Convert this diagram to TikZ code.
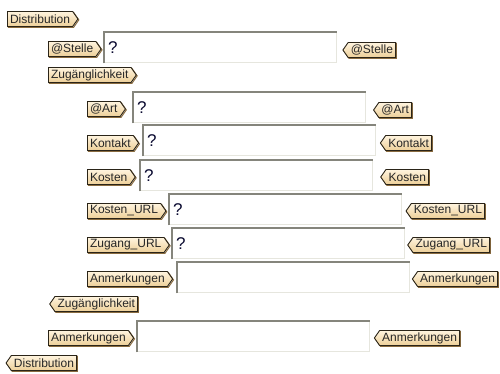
\documentclass[tikz,border=0pt]{standalone}
\usepackage{fontspec}
\usetikzlibrary{shapes.symbols}
\newfontfamily\tagfamily{Liberation Sans}
\definecolor{tagtop}{HTML}{FFF4DE}
\definecolor{tagbot}{HTML}{EDCF98}
\definecolor{tagline}{HTML}{2A2418}
\definecolor{tagshade}{HTML}{8A6C40}
\definecolor{fielddark}{HTML}{85857C}
\definecolor{fieldlight}{HTML}{E6E6DE}
\definecolor{qmark}{HTML}{0A0A30}
\tikzset{
  tag/.style={signal, draw=tagline, line width=0.9pt,
    top color=tagtop, bottom color=tagbot,
    preaction={draw=tagshade, line width=1pt, transform canvas={shift={(0.9pt,-0.9pt)}}},
    font=\tagfamily\fontsize{12}{13}\selectfont, text=black!85,
    inner xsep=2.6pt, inner ysep=0pt, minimum height=15pt,
    signal pointer angle=110},
  opentag/.style={tag, signal to=east, anchor=west},
  closetag/.style={tag, signal to=west, anchor=east},
  field/.style={fill=white, anchor=north west, inner xsep=4pt, inner ysep=0pt,
    minimum width=232pt, minimum height=30pt, text width=224pt, align=left,
    font=\tagfamily\fontsize{17}{18}\selectfont, text=qmark},
}
% bevelled edge of an input field
\newcommand\bevel[1]{%
  \draw[fieldlight, line width=1pt] (#1.north east) -- (#1.south east) -- (#1.south west);
  \draw[fielddark, line width=2pt] ([yshift=-1pt]#1.south west) -- (#1.north west) -- ([xshift=1pt]#1.north east);}
\begin{document}
\begin{tikzpicture}[x=1pt,y=-1pt]
\useasboundingbox (0,0) rectangle (500,374);

\node[opentag] (distO) at (7,19) {Distribution};

\node[opentag] (stelleO) at (48,49) {@Stelle};
\node[field] (stelleF) at (104,32) {?};
\bevel{stelleF}
\node[closetag] (stelleC) at (396,50) {@Stelle};

\node[opentag] (zugO) at (48,75) {Zugänglichkeit};

\node[opentag] (artO) at (87,109) {@Art};
\node[field] (artF) at (133,92) {?};
\bevel{artF}
\node[closetag] (artC) at (412,110) {@Art};

\node[opentag] (kontaktO) at (87,143) {Kontakt};
\node[field] (kontaktF) at (143,125) {?};
\bevel{kontaktF}
\node[closetag] (kontaktC) at (432,143) {Kontakt};

\node[opentag] (kostenO) at (87,177) {Kosten};
\node[field] (kostenF) at (140,160) {?};
\bevel{kostenF}
\node[closetag] (kostenC) at (429,177) {Kosten};

\node[opentag] (kurlO) at (87,211) {Kosten\_URL};
\node[field] (kurlF) at (169,194) {?};
\bevel{kurlF}
\node[closetag] (kurlC) at (485,211) {Kosten\_URL};

\node[opentag] (zurlO) at (87,245) {Zugang\_URL};
\node[field] (zurlF) at (172,228) {?};
\bevel{zurlF}
\node[closetag] (zurlC) at (490,245) {Zugang\_URL};

\node[opentag] (anmAO) at (87,279) {Anmerkungen};
\node[field] (anmAF) at (177,262) {};
\bevel{anmAF}
\node[closetag] (anmAC) at (498,279) {Anmerkungen};

\node[closetag] (zugC) at (138,304) {Zugänglichkeit};

\node[opentag] (anmBO) at (48,338) {Anmerkungen};
\node[field] (anmBF) at (137,321) {};
\bevel{anmBF}
\node[closetag] (anmBC) at (460,338) {Anmerkungen};

\node[closetag] (distC) at (77,363) {Distribution};
\end{tikzpicture}
\end{document}
